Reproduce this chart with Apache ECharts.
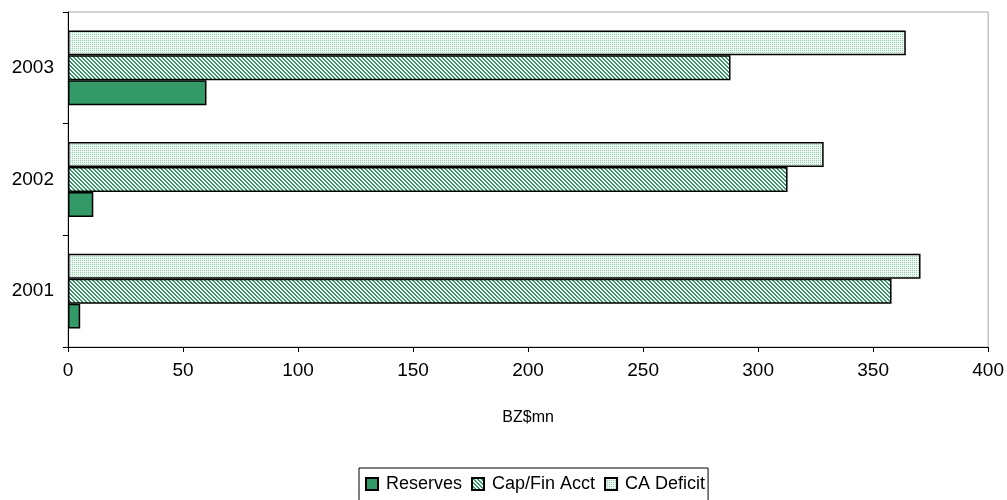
<!DOCTYPE html>
<html>
<head>
<meta charset="utf-8">
<style>
  html, body { margin: 0; padding: 0; background: #fff; }
  #chart { width: 1007px; height: 500px; }
</style>
<script src="https://cdn.jsdelivr.net/npm/echarts@6/dist/echarts.min.js"></script>
</head>
<body>
<div id="chart"></div>
<script>
// Balance of payments components, BZ$ millions
const years = ['2001', '2002', '2003'];
const reserves = [5.3, 11, 60.2];
const capFinAcct = [358, 312.8, 288];
const caDeficit = [370.6, 328.5, 364.2];
const xTicks = { min: 0, max: 400, interval: 50 };

// Small repeating tiles used as fill textures
function makeTile(size, draw) {
  const c = document.createElement('canvas');
  c.width = size; c.height = size;
  const g = c.getContext('2d');
  draw(g);
  return c;
}
const diagTile = makeTile(4, g => {
  g.fillStyle = '#ffffff';
  g.fillRect(0, 0, 4, 4);
  g.fillStyle = '#339966';
  for (let i = 0; i < 4; i++) {
    g.fillRect(i, i, 1, 1);
    g.fillRect((i + 1) % 4, i, 1, 1);
  }
});
const dotTile = makeTile(4, g => {
  g.fillStyle = '#eaf6ef';
  g.fillRect(0, 0, 4, 4);
  g.fillStyle = '#96cfae';
  g.fillRect(0, 0, 1, 1);
  g.fillRect(2, 0, 1, 1);
  g.fillRect(0, 2, 1, 1);
  g.fillRect(2, 2, 1, 1);
  g.fillStyle = '#ffffff';
  g.fillRect(1, 1, 1, 1);
  g.fillRect(3, 3, 1, 1);
});

const fonts = 'Liberation Sans, Arial, sans-serif';
const chart = echarts.init(document.getElementById('chart'), null, { renderer: 'canvas' });

const barBorder = { borderColor: '#000', borderWidth: 1.5 };

chart.setOption({
  animation: false,
  textStyle: { fontFamily: fonts },
  grid: {
    left: 68, right: 18, top: 12, bottom: 153,
    show: true, borderColor: '#a6a6a6', borderWidth: 1, backgroundColor: 'transparent'
  },
  legend: {
    data: ['Reserves', 'Cap/Fin Acct', 'CA Deficit'],
    left: 359,
    top: 468,
    itemWidth: 12,
    itemHeight: 12,
    itemGap: 9,
    icon: 'rect',
    borderColor: '#000',
    borderWidth: 1,
    padding: [7, 3, 8, 6],
    textStyle: { fontFamily: fonts, fontSize: 18, color: '#000', padding: [0, 0, 0, 3] }
  },
  xAxis: {
    type: 'value',
    min: xTicks.min,
    max: xTicks.max,
    interval: xTicks.interval,
    name: 'BZ$mn',
    nameLocation: 'middle',
    nameGap: 63,
    nameTextStyle: { fontFamily: fonts, fontSize: 16, color: '#000' },
    axisLine: { show: true, lineStyle: { color: '#000', width: 1 } },
    axisTick: { show: true, length: 5, lineStyle: { color: '#000' } },
    axisLabel: { fontFamily: fonts, fontSize: 19, color: '#000', margin: 14 },
    splitLine: { show: false }
  },
  yAxis: {
    type: 'category',
    data: years,
    axisLine: { show: true, lineStyle: { color: '#000', width: 1 } },
    axisTick: { show: true, length: 5, lineStyle: { color: '#000' } },
    axisLabel: { fontFamily: fonts, fontSize: 19, color: '#000', margin: 14 }
  },
  series: [
    {
      name: 'CA Deficit', type: 'bar', data: caDeficit,
      barGap: '0%', barCategoryGap: '33%',
      itemStyle: Object.assign({ color: { image: dotTile, repeat: 'repeat' } }, barBorder)
    },
    {
      name: 'Cap/Fin Acct', type: 'bar', data: capFinAcct,
      itemStyle: Object.assign({ color: { image: diagTile, repeat: 'repeat' } }, barBorder)
    },
    {
      name: 'Reserves', type: 'bar', data: reserves,
      itemStyle: Object.assign({ color: '#339966' }, barBorder)
    }
  ]
});
</script>
</body>
</html>
